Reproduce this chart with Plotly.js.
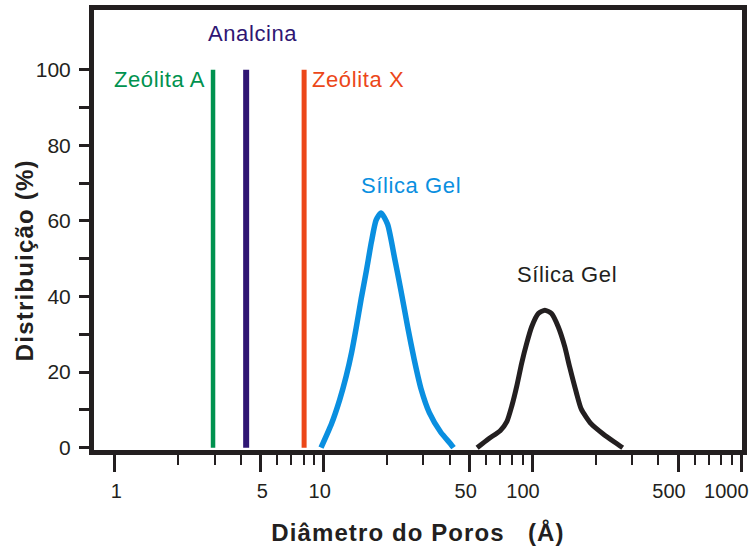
<!DOCTYPE html>
<html>
<head>
<meta charset="utf-8">
<script src="https://cdn.plot.ly/plotly-3.0.1.min.js"></script>
<style>
  html, body { margin: 0; padding: 0; background: #fff; }
  #chart { width: 755px; height: 546px; }
  .annotation-text { letter-spacing: 0.6px; }
  .xtitle { letter-spacing: 1.1px; }
  g.annotation[data-index="5"] text { letter-spacing: 1.2px; }
</style>
</head>
<body>
<div id="chart"></div>
<script>
// Zeolites: single pore size, drawn as vertical bars
const zeoliteNames = ['Zeólita A', 'Analcina', 'Zeólita X'];
const zeolitePore = [2.95, 4.25, 8.05];
const zeoliteDist = [100, 100, 100];
const zeoliteColors = ['#00924f', '#2f1673', '#ec4719'];
const zeoliteWidths = [4.5, 6, 5];

// Fine silica gel distribution
const fineDiam = [9.7, 10.9, 11.9, 12.8, 13.6, 14.3, 15.1, 16.0, 16.9, 17.8, 18.8,
                  20.2, 21.8, 23.4, 25.2, 27.1, 29.2, 32.0, 36.3, 40.5, 41.8];
const fineDist = [0, 6.4, 12.6, 18.9, 25.3, 31.8, 39.4, 46.9, 54.4, 60.2, 62.1,
                  59.1, 50.3, 41.6, 32.0, 23.3, 15.6, 9.3, 4.1, 1.0, 0];

// Coarse silica gel distribution
const coarseDiam = [54.2, 61.6, 69.9, 75.2, 79.5, 83.9, 88.6, 93.6, 98.9, 106.4, 114.4,
                    123.1, 132.5, 142.3, 150.4, 161.8, 170.9, 190.7, 216.7, 246.0, 269.7];
const coarseDist = [0, 2.4, 4.5, 6.9, 11.1, 16.3, 22.4, 27.6, 32.0, 35.5, 36.4,
                    35.5, 32.0, 26.8, 21.3, 14.6, 10.2, 6.3, 3.7, 1.5, 0];

const silicaLabel = 'Sílica Gel';

// Axis ticks
const xMajor = [1, 5, 10, 50, 100, 500, 1000];
const xMajorText = ['1', '5', '10', '50', '100', '500', '1000'];
const xMinor = [2, 3, 4, 6, 7, 8, 9, 20, 30, 40, 60, 70, 80, 90, 200, 300, 400, 600, 700, 800, 900];
const yMajor = [0, 20, 40, 60, 80, 100];
const yMajorText = ['0', '20', '40', '60', '80', '100'];
const yMinor = [10, 30, 50, 70, 90];

const ink = '#231f20';
const fineColor = '#0a8fe0';
const FONT = 'Liberation Sans, Arial, Helvetica, sans-serif';
const NB = '\u00a0';

const traces = [];
zeoliteNames.forEach((name, i) => {
  traces.push({
    type: 'scatter', mode: 'lines', name: name,
    x: [zeolitePore[i], zeolitePore[i]],
    y: [0, zeoliteDist[i]],
    line: { color: zeoliteColors[i], width: zeoliteWidths[i] },
    hoverinfo: 'x+name'
  });
});
traces.push({
  type: 'scatter', mode: 'lines', name: silicaLabel,
  x: fineDiam, y: fineDist,
  line: { color: fineColor, width: 5.5, shape: 'spline', smoothing: 0.6 }
});
traces.push({
  type: 'scatter', mode: 'lines', name: silicaLabel,
  x: coarseDiam, y: coarseDist,
  line: { color: ink, width: 5, shape: 'spline', smoothing: 0.6 }
});

const lg = Math.log10;
const labelFont = (c) => ({ family: FONT, size: 22, color: c });

const annotations = [
  { x: lg(zeolitePore[0]), y: 97.5, text: zeoliteNames[0], xanchor: 'right', yanchor: 'middle',
    xshift: -6, font: labelFont(zeoliteColors[0]) },
  { x: lg(zeolitePore[1]), y: 109.5, text: zeoliteNames[1], xanchor: 'center', yanchor: 'middle',
    xshift: 6, font: labelFont(zeoliteColors[1]) },
  { x: lg(zeolitePore[2]), y: 97.5, text: zeoliteNames[2], xanchor: 'left', yanchor: 'middle',
    xshift: 6, font: labelFont(zeoliteColors[2]) },
  { x: lg(25.4), y: 69.5, text: silicaLabel, xanchor: 'center', yanchor: 'middle',
    xshift: 3, font: labelFont(fineColor) },
  { x: lg(141), y: 45.8, text: silicaLabel, xanchor: 'center', yanchor: 'middle',
    xshift: 3, font: labelFont(ink) },
  { xref: 'paper', yref: 'paper', x: -0.107, y: 0.43, text: 'Distribuição (%)',
    textangle: -90, xanchor: 'center', yanchor: 'middle',
    font: { family: FONT, size: 24, color: ink, weight: 'bold' } }
].map(a => Object.assign({ xref: 'x', yref: 'y', showarrow: false }, a));

const layout = {
  width: 755, height: 546,
  margin: { l: 94, r: 13, t: 10, b: 96 },
  paper_bgcolor: '#fff', plot_bgcolor: '#fff',
  showlegend: false,
  font: { family: FONT, color: ink, size: 20 },
  xaxis: {
    type: 'log',
    range: [-0.1, 3.002],
    showgrid: false, zeroline: false,
    showline: true, mirror: true, linewidth: 5, linecolor: ink,
    tickmode: 'array', tickvals: xMajor, ticktext: xMajorText,
    tickangle: 0,
    ticklabelposition: 'outside left', ticklabelshift: 11, ticklabelstandoff: 19,
    ticks: 'outside', ticklen: 17, tickwidth: 3, tickcolor: ink,
    tickfont: { family: FONT, size: 20, color: ink },
    minor: { tickmode: 'array', tickvals: xMinor, ticks: 'outside', ticklen: 10, tickwidth: 2, tickcolor: ink, showgrid: false },
    title: { text: 'Diâmetro do Poros' + NB + NB + NB + '(Å)', standoff: 26,
             font: { family: FONT, size: 24, color: ink, weight: 'bold' } }
  },
  yaxis: {
    range: [-0.6, 115.8],
    showgrid: false, zeroline: false,
    showline: true, mirror: true, linewidth: 5, linecolor: ink,
    tickmode: 'array', tickvals: yMajor, ticktext: yMajorText,
    ticks: 'outside', ticklen: 10, tickwidth: 3, tickcolor: ink,
    ticklabelstandoff: 4,
    tickfont: { family: FONT, size: 21, color: ink },
    minor: { tickmode: 'array', tickvals: yMinor, ticks: 'outside', ticklen: 10, tickwidth: 3, tickcolor: ink, showgrid: false }
  },
  annotations: annotations
};

Plotly.newPlot('chart', traces, layout, { displayModeBar: false, staticPlot: true });
</script>
</body>
</html>
